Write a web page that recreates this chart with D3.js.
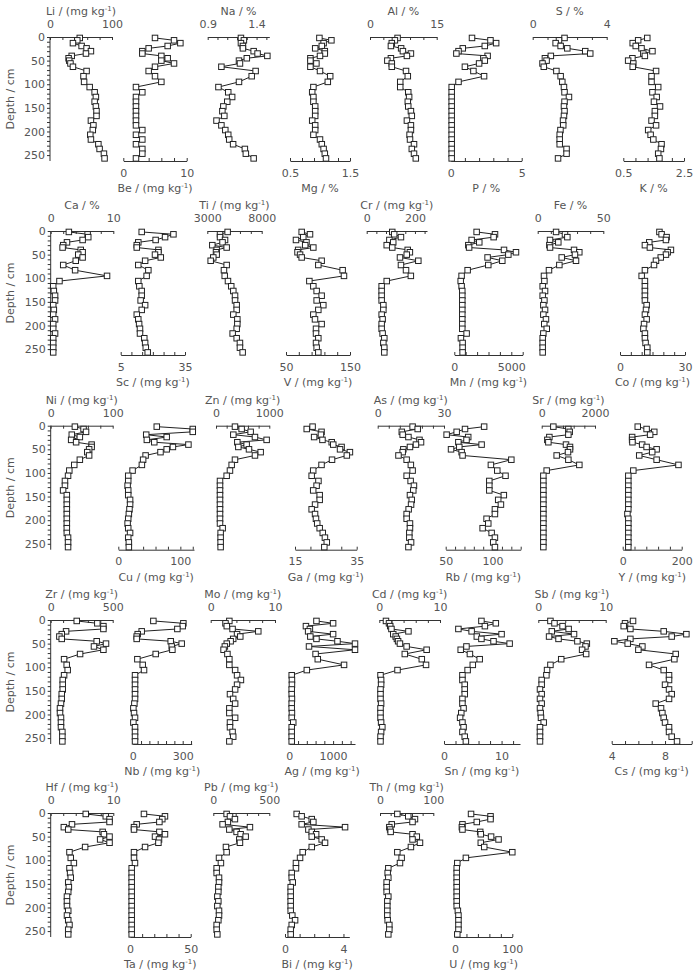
<!DOCTYPE html>
<html>
<head>
<meta charset="utf-8">
<script src="https://cdn.jsdelivr.net/npm/d3@7"></script>
<style>
  body { margin: 0; background: #fff; }
  svg { display: block; }
  text { font-family: "DejaVu Sans", Verdana, sans-serif; fill: #555; font-size: 11px; }
</style>
</head>
<body>
<svg id="chart" width="698" height="973"></svg>
<script>
// sample depths (cm), shared by every profile
const depth = [2,7,13,19,24,30,35,40,45,50,56,63,72,83,95,106,117,127,137,147,157,167,177,187,197,207,217,227,237,247,257]

// row 1
const Li = [48,44,37,51,59,66,58,35,30,31,33,37,59,54,55,64,72,74,72,74,75,75,66,70,69,65,66,78,80,87,88]
const Be = [5,8,9,7,4,3,3,6,7,6,8,5,4,5,6,2,3,2,2,2,2,2,2,2,3,2,3,2,3,3,2]
const Na = [1.24,1.27,1.24,1.26,1.26,1.37,1.41,1.51,1.30,1.22,1.23,1.04,1.39,1.35,1.22,1.01,1.11,1.15,1.10,1.06,1.05,1.07,0.99,1.04,1.08,1.11,1.12,1.16,1.28,1.29,1.37]
const Mg = [0.99,1.19,1.06,1.03,0.92,1.08,1.08,1.00,0.84,0.84,0.94,0.84,1.00,1.17,1.13,0.89,0.87,0.89,0.89,0.92,0.92,0.92,0.87,0.92,0.92,0.89,1.00,1.03,1.06,1.08,1.10]
const Al = [6.2,5.6,4.9,4.7,7.0,7.4,9.2,8.3,4.7,3.9,4.9,4.9,8.1,8.5,6.8,6.8,8.6,8.8,8.5,8.6,9.2,9.4,8.3,9.2,9.2,8.9,9.0,9.9,9.4,9.9,10.3]
const P = [1.5,2.8,3.2,2.4,0.85,0.55,0.4,2.6,2.3,2.4,2.0,1.0,1.6,2.35,0.55,0.07,0.07,0.07,0.07,0.07,0.07,0.07,0.07,0.07,0.07,0.07,0.07,0.07,0.07,0.07,0.07]
const S = [1.72,1.42,1.24,1.51,1.87,2.84,3.11,0.98,0.66,0.75,0.53,0.6,1.28,1.51,1.6,1.69,1.72,1.96,1.72,1.69,1.72,1.69,1.64,1.65,1.5,1.46,1.46,1.46,1.83,1.83,1.37]
const K = [1.29,0.99,0.81,0.91,1.1,1.46,1.16,1.21,0.8,0.66,0.83,0.81,1.58,1.43,1.43,1.65,1.46,1.6,1.51,1.71,1.54,1.54,1.43,1.58,1.32,1.4,1.49,1.76,1.74,1.65,1.69]
// row 2
const Ca = [2.9,5.9,6.0,5.1,2.6,2.0,1.9,4.8,5.1,4.4,5.1,4.0,2.0,3.9,9.0,1.4,0.4,0.5,0.7,0.7,0.4,0.5,0.4,0.7,0.4,0.4,0.7,0.4,0.4,0.4,0.4]
const Sc = [14.8,29.6,25.7,21.3,13.2,12.5,12.5,22.6,22.6,21,23.7,16.4,13.2,17.9,17.1,13.2,13.7,14.8,14.8,14.3,16.4,14.8,12.5,13.2,13.6,14,14,16,16.4,16.7,17.6]
const Ti = [4870,4170,4170,4630,4400,3460,4780,3860,3800,3860,3550,3310,4780,4530,4600,4900,5200,5390,5550,5550,5700,5700,5390,5760,5760,5700,5330,5700,6000,6000,6250]
const V = [74.5,87.5,77,65.6,82,80,92.7,69,68,72,74.5,105.7,100.5,138.5,140.6,86.5,92.7,97.9,105.7,97.9,108.3,100.5,92.7,95.3,105.7,96.9,96.9,100.5,96.9,97.9,100.5]
const Cr = [106,114,142,94,110,83,106,170,179,166,138,214,142,163,183,83,62,62,62,62,69,69,62,66,62,62,66,73,69,73,73]
const Mn = [1960,3570,3450,1520,2190,1230,1300,4360,5410,4740,2920,4210,2980,1170,640,560,640,700,700,700,700,700,700,700,700,700,1080,580,730,730,730]
const Fe = [14,20.8,22.6,9.4,15.7,8.9,9.4,27.7,31.7,28.4,18.3,29.2,16.5,8.6,4.8,5.1,3.8,5.6,3.8,5.1,4.3,5.6,4.3,6.3,5,6.9,4.3,3.8,3.8,3.8,3.8]
const Co = [18.2,19.2,21.5,21.2,13.5,11.5,13.8,23.5,22,21.2,18.8,16.6,15.7,11.5,10,11.5,11.5,11.5,11.5,11.5,12.3,12,11.5,12.3,11.1,10.8,11.5,11.5,11.8,12.6,12.6]
// row 3
const Ni = [39,53,57,34,47,33,41,66,66,62,59,62,47,38,30,28,23,23,20,26,26,26,26,26,26,26,26,26,28,28,28]
const Cu = [62,120,120,45,78,46,58,113,88,78,68,44,40,38,23,16,16,15,16,16,19,19,18,17,16,15,16,19,16,17,17]
const Zn = [356,481,650,325,731,950,400,575,419,619,838,731,356,294,262,200,75,75,75,75,75,75,75,75,75,75,125,87,87,87,87]
const Ga = [20.7,18.8,23.6,23.4,21.2,23.9,26.9,27.4,30.1,29.6,32.8,31.8,27,23.6,20.9,20.4,22.6,22,20.9,23,23,21.5,20.4,21.5,21.8,22.2,23,24,24.7,25.3,24.5]
const As = [15.8,18.1,10.9,11.3,13.9,18.9,19.6,17.3,14.6,11.6,11.3,9.4,13.1,15,15.8,13.1,14.9,16.4,16.1,14.6,15.4,15.1,14,13.1,13.1,14.6,14.6,14.3,14.3,15.1,13.9]
const Rb = [91,70.6,61.7,51,74,72.2,63.5,88.3,64.5,55.7,67,68,120,98.2,105,113.8,96.5,96.5,96.5,112,106,108.9,102.5,102.5,93.6,95.4,89.4,99,102.5,100.7,102.5]
const Sr = [437,1000,1050,1000,287,212,250,912,1062,1062,987,562,1000,1412,187,62,62,62,62,62,62,62,62,62,62,62,62,62,62,62,62]
const Y = [51,81,107,93,32,32,33,66,81,115,100,56,115,189,36,19,19,19,19,19,19,19,19,16,19,19,19,19,19,19,19]
// row 4
const Zr = [210,376,425,425,124,89,70,89,371,446,349,425,237,108,129,137,108,97,97,97,89,89,83,75,75,83,83,83,94,94,94]
const Nb = [124,304,300,268,54,30,24,24,228,294,234,238,138,28,60,68,14,14,14,14,14,14,10,4,8,14,4,14,14,14,14]
const Mo = [2.9,2.3,2.5,3.4,7.4,4.1,4.6,3.5,3.1,2.5,2.2,2.0,2.6,2.9,2.9,3.8,4.1,4.7,4.1,3.8,3.0,3.5,3.8,2.9,2.9,3.8,3.0,3.0,3.4,3.5,2.9]
const Ag = [620,1000,380,470,430,1000,480,620,1100,1500,450,1500,600,650,1250,400,55,60,60,55,55,60,55,55,60,55,90,55,55,55,55]
const Cd = [1.1,1.6,1.8,2.0,4.8,2.3,2.7,2.9,3.1,3.4,4.5,7.8,4.2,7.0,7.7,3.0,0.2,0.3,0.3,0.2,0.2,0.2,0.3,0.2,0.2,0.2,0.3,0.5,0.3,0.2,0.2]
const Sn = [6.5,9.0,7.1,2.5,4.8,10.0,5.7,6.5,8.6,11.4,3.9,2.9,4.5,6.2,5.0,4.1,3.2,3.2,3.6,3.6,3.6,3.2,3.2,3.4,3.0,2.8,3.2,3.4,3.2,3.6,3.8]
const Sb = [1.8,2.4,3.6,4.5,2.0,5.3,1.6,3.0,5.8,7.2,7.0,6.5,7.1,3.4,1.8,1.3,1.2,0.5,0.5,0.25,0.5,0.25,0.5,0.25,0.35,0.4,0.8,0.25,0.25,0.25,0.25]
const Cs = [5.6,5.0,4.9,5.4,7.9,9.6,8.5,5.4,4.2,5.2,6.3,6.0,8.8,8.7,6.8,7.9,8.3,8.3,8.0,8.3,8.5,8.3,7.3,7.7,7.8,7.9,8.0,8.3,8.3,8.5,8.9]
// row 5
const Hf = [5.6,8.8,9.4,9.4,3.4,2.1,2.8,8.3,8.5,9.4,7.9,9.4,5.5,3.0,3.2,3.7,3.0,3.1,3.2,2.8,2.9,2.8,2.6,2.6,2.6,2.8,2.6,2.8,3.0,2.8,2.8]
const Ta = [11.5,28.8,26.6,24.2,5.5,3.3,3.3,24.2,28.8,20.6,23.9,23.4,12.4,3.3,3.3,4.1,1.4,1.4,1.4,1.4,1.4,1.4,1.4,1.4,1.4,1.4,1.4,1.4,1.4,1.4,1.4]
const Pb = [119,149,193,130,83,327,143,208,244,289,232,238,113,119,51,68,30,30,51,51,45,45,36,45,36,51,51,45,30,30,36]
const Bi = [0.8,1.14,1.83,1.94,1.14,4.11,1.6,1.83,2.13,1.83,2.51,2.74,1.83,1.21,1.03,0.75,0.75,0.46,0.46,0.53,0.39,0.39,0.39,0.39,0.39,0.39,0.5,0.69,0.46,0.39,0.39]
const Th = [32.5,53,65.6,61,22,17.5,19,20,61,69,61,75,58,32.5,40.6,37.5,15.6,14.4,15.6,12.5,12.5,12.5,15.6,13.7,13.7,13.7,13.7,14.4,17.5,17.5,15.6]
const U = [28,62,62,38,13,12,13,44,45,63,76,45,51,100,19,4,3,3,3,3,3,3,3,3,3,5,6,6,6,6,4]

const series = {Li, Be, Na, Mg, Al, P, S, K, Ca, Sc, Ti, V, Cr, Mn, Fe, Co, Ni, Cu, Zn, Ga, As, Rb, Sr, Y,
  Zr, Nb, Mo, Ag, Cd, Sn, Sb, Cs, Hf, Ta, Pb, Bi, Th, U}

const rowElements = [
  ["Li","Be","Na","Mg","Al","P","S","K"],
  ["Ca","Sc","Ti","V","Cr","Mn","Fe","Co"],
  ["Ni","Cu","Zn","Ga","As","Rb","Sr","Y"],
  ["Zr","Nb","Mo","Ag","Cd","Sn","Sb","Cs"],
  ["Hf","Ta","Pb","Bi","Th","U"]
]
const percentUnits = ["Na","Mg","Al","P","S","K","Ca","Fe"]

// axis extent, labelled ticks, tick step
const axisDomain = {
  Li:[0,100], Be:[0,10], Na:[0.9,1.53], Mg:[0.5,1.5], Al:[0,15], P:[0,5], S:[0,4], K:[0.5,2.5],
  Ca:[0,10], Sc:[5,35], Ti:[3000,8000], V:[50,150], Cr:[0,250], Mn:[0,6000], Fe:[0,50], Co:[0,30],
  Ni:[0,100], Cu:[0,122], Zn:[0,1000], Ga:[15,35], As:[0,30], Rb:[50,130], Sr:[0,2000], Y:[0,200],
  Zr:[0,500], Nb:[0,354], Mo:[0,10], Ag:[0,1500], Cd:[0,10], Sn:[0,13.2], Sb:[0,10], Cs:[4,10],
  Hf:[0,10], Ta:[0,50], Pb:[0,500], Bi:[0,4.4], Th:[0,100], U:[0,100]
}
const tickLabels = {
  Li:[0,100], Be:[0,10], Na:[0.9,1.4], Mg:[0.5,1.5], Al:[0,15], P:[0,5], S:[0,4], K:[0.5,2.5],
  Ca:[0,10], Sc:[5,35], Ti:[3000,8000], V:[50,150], Cr:[0,200], Mn:[0,5000], Fe:[0,50], Co:[0,30],
  Ni:[0,100], Cu:[0,100], Zn:[0,1000], Ga:[15,35], As:[0,30], Rb:[50,100], Sr:[0,2000], Y:[0,200],
  Zr:[0,500], Nb:[0,300], Mo:[0,10], Ag:[0,1000], Cd:[0,10], Sn:[0,10], Sb:[0,10], Cs:[4,8],
  Hf:[0,10], Ta:[0,50], Pb:[0,500], Bi:[0,4], Th:[0,100], U:[0,100]
}
const tickStep = {
  Li:20, Be:2, Na:0.1, Mg:0.2, Al:3, P:1, S:0.8, K:0.4,
  Ca:2, Sc:5, Ti:1000, V:20, Cr:40, Mn:1000, Fe:10, Co:5,
  Ni:20, Cu:20, Zn:200, Ga:5, As:5, Rb:10, Sr:400, Y:40,
  Zr:100, Nb:50, Mo:2, Ag:200, Cd:2, Sn:2, Sb:2, Cs:1,
  Hf:2, Ta:10, Pb:100, Bi:1, Th:20, U:20
}

// layout: pixel span of each panel
const panelX = [
  [[50,112],[123.3,186.7],[207.7,269.3],[290,350],[370,436.7],[450.7,521.7],[532.7,606.7],[623.3,684]],
  [[50.7,113.3],[120.7,185],[207.3,261.7],[286,350],[366.7,427],[454.3,522.7],[537.7,603.3],[620,685]],
  [[50.7,112.7],[118.3,194],[216,269.3],[295,356.7],[377.7,444],[445.7,520.7],[541.7,595],[622.7,681.7]],
  [[50.7,112.7],[132.7,191.7],[210.7,275],[289.3,355],[379.3,440],[444,520],[538.3,605.7],[611.7,691.7]],
  [[50.7,113.3],[130,190.7],[213.3,269.3],[285,349.3],[380,433.3],[455,512.3]]
]
const rowTop = [37, 231, 425.7, 620, 813]
const plotH = 124

const svg = d3.select("#chart")
const y = d3.scaleLinear().domain([0, 262.5]).range([0, plotH])

const styleAxis = g => {
  g.attr("font-family", null).attr("font-size", null)
  g.select(".domain").attr("stroke", "#333")
  g.selectAll(".tick line").attr("stroke", "#333")
  g.selectAll(".tick text").attr("fill", "#555")
}

const addTitle = (g, el, xPos, yPos) => {
  const t = g.append("text").attr("x", xPos).attr("y", yPos).attr("text-anchor", "middle")
  if (percentUnits.includes(el)) {
    t.text(`${el} / %`)
  } else {
    t.append("tspan").text(`${el} / (mg kg`)
    t.append("tspan").attr("dy", -4).attr("font-size", 7).text("-1")
    t.append("tspan").attr("dy", 4).text(")")
  }
}

rowElements.forEach((row, ri) => {
  const g = svg.append("g").attr("transform", `translate(0,${rowTop[ri]})`)
  const x0 = panelX[ri][0][0]

  // depth axis
  g.append("g")
    .attr("transform", `translate(${x0},0)`)
    .call(d3.axisLeft(y)
      .tickValues(d3.range(0, 251, 10))
      .tickSizeInner(3).tickSizeOuter(0).tickPadding(2)
      .tickFormat(d => d % 50 === 0 ? d : ""))
    .call(styleAxis)
    .call(a => a.select(".domain").attr("d", `M0,0V${plotH}`))

  g.append("text")
    .attr("transform", `translate(14,${plotH / 2}) rotate(-90)`)
    .attr("text-anchor", "middle")
    .text("Depth / cm")

  row.forEach((el, ci) => {
    const onTop = ci % 2 === 0
    const dom = axisDomain[el]
    const step = tickStep[el]
    const x = d3.scaleLinear().domain(dom).range(panelX[ri][ci])
    const labs = tickLabels[el]
    const first = labs[0]
    const n = Math.floor((dom[1] - first) / step + 1e-6)
    const ticks = d3.range(0, n + 1).map(i => +(first + i * step).toFixed(6))
    const fmt = d => labs.some(l => Math.abs(l - d) < 1e-9) ? String(d) : ""

    const axis = (onTop ? d3.axisTop(x) : d3.axisBottom(x))
      .tickValues(ticks).tickSizeInner(-3).tickSizeOuter(0)
      .tickPadding(onTop ? 9 : 8).tickFormat(fmt)

    g.append("g")
      .attr("transform", `translate(0,${onTop ? 0 : plotH})`)
      .call(axis)
      .call(styleAxis)

    const cx = (panelX[ri][ci][0] + panelX[ri][ci][1]) / 2
    addTitle(g, el, cx, onTop ? -22 : plotH + 31)

    const pts = depth.map((d, i) => ({d, v: series[el][i]}))
    const line = d3.line().x(p => x(p.v)).y(p => y(p.d))

    g.append("path")
      .datum(pts)
      .attr("d", line)
      .attr("fill", "none")
      .attr("stroke", "#222")
      .attr("stroke-width", 1)

    g.append("g")
      .selectAll("rect")
      .data(pts)
      .join("rect")
      .attr("x", p => x(p.v) - 2.75)
      .attr("y", p => y(p.d) - 2.75)
      .attr("width", 5.5)
      .attr("height", 5.5)
      .attr("fill", "#fff")
      .attr("stroke", "#222")
      .attr("stroke-width", 1)
  })
})
</script>
</body>
</html>
